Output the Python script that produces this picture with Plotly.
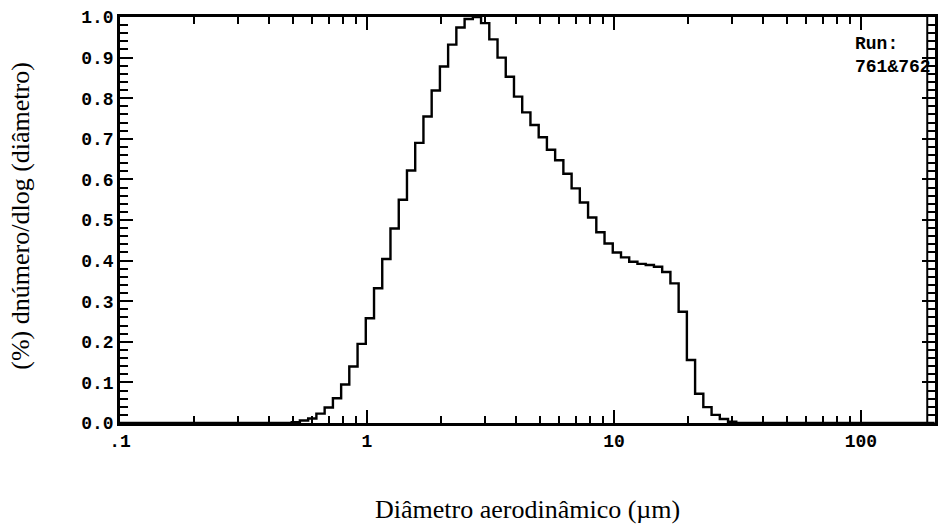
import plotly.graph_objects as go

# Left edge of each size channel (µm) and the normalised dN/dlogD value for that channel
bin_left_um = [0.1, 0.459, 0.496, 0.535, 0.578, 0.624, 0.674, 0.728, 0.786, 0.848,
               0.916, 0.989, 1.068, 1.153, 1.245, 1.345, 1.452, 1.568, 1.693, 1.828,
               1.974, 2.131, 2.301, 2.485, 2.683, 2.897, 3.128, 3.378, 3.647, 3.938,
               4.252, 4.591, 4.958, 5.353, 5.780, 6.241, 6.739, 7.276, 7.857, 8.484,
               9.160, 9.891, 10.68, 11.53, 12.45, 13.45, 14.52, 15.68, 16.93, 18.28,
               19.74, 21.31, 23.01, 24.85, 26.83, 28.97, 31.28, 199.0]
dn_dlogd = [0.0, 0.0, 0.002, 0.006, 0.011, 0.023, 0.038, 0.061, 0.095, 0.139,
            0.195, 0.258, 0.332, 0.404, 0.479, 0.550, 0.622, 0.690, 0.755, 0.819,
            0.878, 0.932, 0.974, 0.995, 1.0, 0.985, 0.945, 0.900, 0.853, 0.804,
            0.765, 0.734, 0.704, 0.673, 0.647, 0.614, 0.578, 0.543, 0.506, 0.470,
            0.442, 0.420, 0.408, 0.397, 0.392, 0.389, 0.385, 0.372, 0.344, 0.274,
            0.155, 0.072, 0.039, 0.020, 0.010, 0.003, 0.0, 0.0]

x_tick_vals = [0.1, 1, 10, 100]
x_tick_text = [".1", "1", "10", "100"]

x_title = "Diâmetro aerodinâmico (µm)"
y_title = "(%) dnúmero/dlog (diâmetro)"
run_label = "Run:<br>761&amp;762"

tick_font = dict(family="Liberation Mono", size=18, color="black", weight="bold")
title_font = dict(family="Liberation Serif", size=26, color="black")

fig = go.Figure()
fig.add_trace(go.Scatter(
    x=bin_left_um, y=dn_dlogd, mode="lines", line_shape="hv",
    line=dict(color="black", width=2.4), showlegend=False, hoverinfo="skip"))

fig.update_xaxes(
    type="log", range=[-1, 2.3],
    showline=True, linecolor="black", linewidth=2.5, mirror="ticks",
    ticks="inside", ticklen=13, tickwidth=2, tickcolor="black",
    tickmode="array", tickvals=x_tick_vals, ticktext=x_tick_text,
    tickfont=tick_font,
    minor=dict(dtick="D1", ticks="inside", ticklen=7, tickwidth=2, tickcolor="black"),
    showgrid=False, zeroline=False,
)
fig.update_yaxes(
    range=[0, 1.0],
    showline=True, linecolor="black", linewidth=2.5, mirror="ticks",
    ticks="inside", ticklen=13, tickwidth=2, tickcolor="black",
    tick0=0, dtick=0.1, tickformat=".1f",
    tickfont=tick_font,
    minor=dict(dtick=0.02, ticks="inside", ticklen=8, tickwidth=2, tickcolor="black"),
    showgrid=False, zeroline=False,
)

# axis titles
fig.add_annotation(text=x_title, xref="paper", yref="paper", x=0.5, y=-0.2138,
                   xanchor="center", yanchor="middle", showarrow=False, font=title_font)
fig.add_annotation(text=y_title, xref="paper", yref="paper", x=-0.1225, y=0.511,
                   xanchor="center", yanchor="middle", textangle=-90, showarrow=False,
                   font=title_font)

# inner rail of the right-hand tick ladder
fig.add_shape(type="line", xref="paper", yref="paper", x0=0.9905, x1=0.9905, y0=0, y1=1,
              line=dict(color="black", width=2))

fig.add_annotation(text=run_label, xref="paper", yref="paper", x=0.8995, y=0.964,
                   xanchor="left", yanchor="top", align="left", showarrow=False,
                   font=dict(family="Liberation Mono", size=18, color="black", weight="bold"))

fig.update_layout(
    width=946, height=528,
    margin=dict(l=120, r=8, t=16, b=105),
    paper_bgcolor="white", plot_bgcolor="white",
)

fig.write_html("out.html")
